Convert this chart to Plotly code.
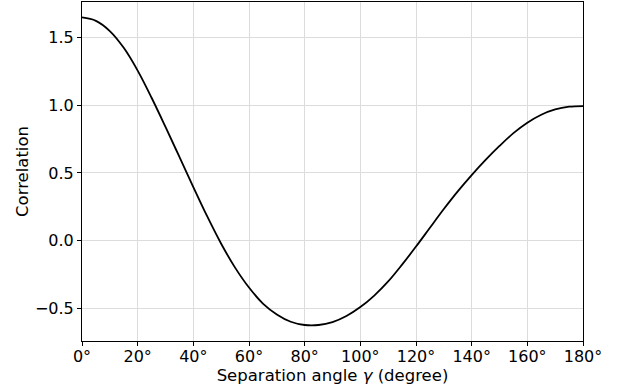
import plotly.graph_objects as go

angles = [0, 5, 10, 15, 20, 25, 30, 35, 40, 45, 50, 55, 60, 65, 70, 75, 80, 85, 90,
          95, 100, 105, 110, 115, 120, 125, 130, 135, 140, 145, 150, 155, 160, 165, 170, 175, 180]
correlation = [1.646, 1.621, 1.546, 1.422, 1.254, 1.054, 0.839, 0.618, 0.396, 0.179, -0.022,
               -0.198, -0.345, -0.463, -0.543, -0.597, -0.621, -0.621, -0.600,
               -0.555, -0.489, -0.404, -0.300, -0.176, -0.043, 0.096, 0.234, 0.364, 0.484,
               0.596, 0.699, 0.793, 0.870, 0.929, 0.968, 0.988, 0.993]
xticks = [0, 20, 40, 60, 80, 100, 120, 140, 160, 180]
xtick_labels = [f"{v}\u00b0" for v in xticks]
yticks = [-0.5, 0.0, 0.5, 1.0, 1.5]
ytick_labels = ["\u22120.5", "0.0", "0.5", "1.0", "1.5"]

fig = go.Figure()
fig.add_trace(go.Scatter(x=angles, y=correlation, mode="lines",
                         line=dict(color="black", width=1.8, shape="spline", smoothing=1.0),
                         showlegend=False))

axis_common = dict(showline=True, linecolor="black", linewidth=1, mirror=True,
                   ticks="outside", ticklen=4, tickwidth=1, tickcolor="black",
                   showgrid=True, gridcolor="#dcdcdc", gridwidth=1, zeroline=False,
                   tickfont=dict(size=16, color="black"))

fig.update_layout(
    width=630, height=392,
    margin=dict(l=82, r=47, t=2, b=51),
    paper_bgcolor="white", plot_bgcolor="white",
    font=dict(family="DejaVu Sans", size=16, color="black"),
    xaxis=dict(range=[0, 180], tickvals=xticks, ticktext=xtick_labels,
               ticklabelstandoff=-3,
               title=dict(text="Separation angle <i>\u03b3</i> (degree)", standoff=0,
                          font=dict(size=16.5)),
               **axis_common),
    yaxis=dict(range=[-0.739, 1.760], tickvals=yticks, ticktext=ytick_labels,
               title=dict(text="Correlation", standoff=2, font=dict(size=16.5)),
               **axis_common),
)

fig.write_html("out.html")
